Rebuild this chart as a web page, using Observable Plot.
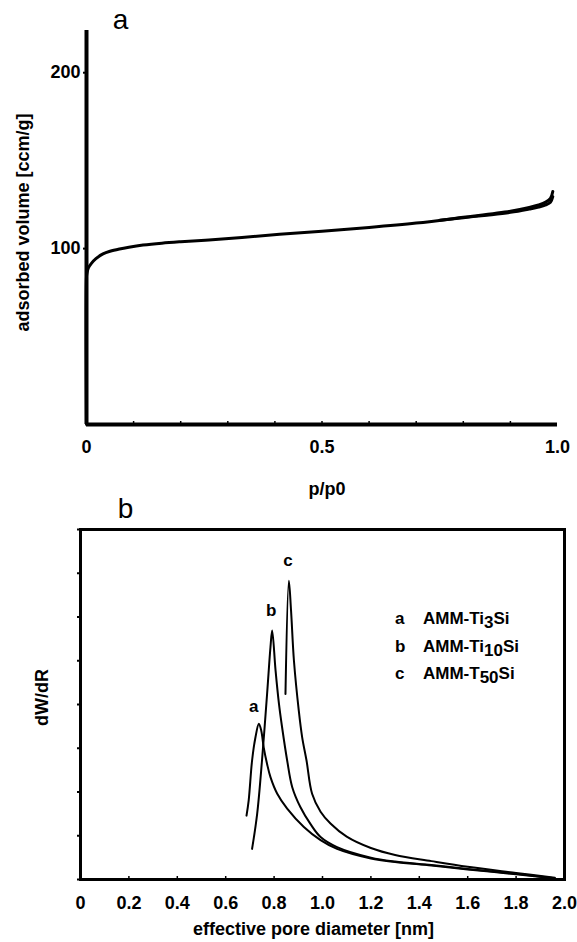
<!DOCTYPE html>
<html><head><meta charset="utf-8">
<script src="https://cdn.jsdelivr.net/npm/d3@7"></script>
<script src="https://cdn.jsdelivr.net/npm/@observablehq/plot@0.6"></script>
<style>
body{margin:0;background:#fff;}
#wrap{position:relative;width:577px;height:942px;font-family:"Liberation Sans",Arial,sans-serif;color:#000;}
#chartA{position:absolute;left:0;top:0;}
#chartB{position:absolute;left:0;top:500px;}
.lg{position:absolute;left:395px;font:bold 17px "Liberation Sans",Arial,sans-serif;line-height:17px;white-space:nowrap;color:#000;}
.lg .k{display:inline-block;width:28px;}
.lg .s{position:relative;top:4px;}
</style>
</head><body>
<div id="wrap">
  <div id="chartA"></div>
  <div id="chartB"></div>
  <div id="legend"></div>
</div>
<script>
// ---- Panel a: nitrogen isotherm ----
const isoAdsP = [0, 0, 0.001, 0.004, 0.01, 0.02, 0.035, 0.05, 0.07, 0.09, 0.12, 0.16, 0.2, 0.26, 0.33, 0.41, 0.5, 0.6, 0.7, 0.8, 0.9, 0.94, 0.96, 0.975, 0.985, 0.99];
const isoAdsV = [0, 84, 86, 89, 91.5, 94.3, 97, 98.5, 99.8, 100.8, 102, 103.1, 103.9, 104.9, 106.3, 108.1, 109.9, 112, 114.5, 117.8, 121.3, 123.4, 124.8, 126.4, 128.5, 132.5];
const isoDesP = [0.99, 0.985, 0.975, 0.96, 0.94, 0.9, 0.85, 0.8, 0.75];
const isoDesV = [129.5, 126.3, 124.8, 123.6, 122.5, 120.6, 119.0, 117.6, 116.1];
const aXTicks = [0, 0.5, 1];
const aXTickLabels = ["0", "0.5", "1.0"];
const aMinorTicks = [0.1, 0.2, 0.3, 0.4, 0.5, 0.6, 0.7, 0.8, 0.9];
const aYTicks = [100, 200];

// ---- Panel b: pore size distributions ----
const psdA_d = [0.686, 0.695, 0.709, 0.723, 0.737, 0.747, 0.757, 0.771, 0.785, 0.813, 0.854, 0.923, 0.992, 1.06, 1.2, 1.3, 1.45, 1.6, 1.8, 1.95];
const psdA_v = [1.46, 1.81, 2.72, 3.25, 3.56, 3.4, 3.02, 2.64, 2.34, 1.96, 1.62, 1.2, 0.9, 0.7, 0.48, 0.4, 0.32, 0.23, 0.12, 0.03];
const psdB_d = [0.709, 0.73, 0.75, 0.771, 0.785, 0.792, 0.806, 0.82, 0.833, 0.854, 0.875, 0.909, 0.95, 0.992, 1.06, 1.2, 1.3, 1.45, 1.6, 1.8, 1.96];
const psdB_v = [0.7, 1.5, 2.72, 4.24, 5.31, 5.69, 4.78, 4.02, 3.48, 2.72, 2.11, 1.65, 1.27, 0.97, 0.74, 0.5, 0.41, 0.33, 0.24, 0.13, 0.03];
const psdC_d = [0.847, 0.861, 0.87, 0.882, 0.902, 0.916, 0.934, 0.957, 0.992, 1.033, 1.1, 1.2, 1.3, 1.45, 1.6, 1.8, 1.96];
const psdC_v = [4.24, 6.83, 6.15, 5.0, 3.86, 3.25, 2.72, 1.96, 1.55, 1.28, 0.98, 0.72, 0.56, 0.42, 0.29, 0.15, 0.04];
const seriesKeys = ["a", "b", "c"];
const seriesNames = [["AMM-Ti", "3", "Si"], ["AMM-Ti", "10", "Si"], ["AMM-T", "50", "Si"]];
const bXTicks = [0, 0.2, 0.4, 0.6, 0.8, 1.0, 1.2, 1.4, 1.6, 1.8, 2.0];
const bXTickLabels = ["0", "0.2", "0.4", "0.6", "0.8", "1.0", "1.2", "1.4", "1.6", "1.8", "2.0"];
const bYTicks = [0, 1, 2, 3, 4, 5, 6, 7, 8];

const FONT = "'Liberation Sans', Arial, sans-serif";

const ads = isoAdsP.map((p, i) => ({p, v: isoAdsV[i]}));
const des = isoDesP.map((p, i) => ({p, v: isoDesV[i]}));

const plotA = Plot.plot({
  width: 577, height: 500,
  marginLeft: 86, marginRight: 20, marginTop: 30, marginBottom: 76,
  style: {fontFamily: FONT, background: "white", color: "black", overflow: "visible"},
  x: {domain: [0, 1]},
  y: {domain: [0, 224]},
  marks: [
    Plot.axisX(aXTicks, {tickSize: 0, tickPadding: 16, fontSize: 18, fontWeight: "bold", label: null,
      tickFormat: d => aXTickLabels[aXTicks.indexOf(d)]}),
    Plot.axisX(aMinorTicks, {tickSize: 3, dy: -3, fill: "none", strokeWidth: 1.5, label: null}),
    Plot.axisY(aYTicks, {tickSize: 3, tickPadding: 3, fontSize: 18, fontWeight: "bold", strokeWidth: 2, label: null}),
    Plot.ruleX([0], {strokeWidth: 4}),
    Plot.ruleY([0], {strokeWidth: 4}),
    Plot.line(ads, {x: "p", y: "v", strokeWidth: 3, curve: "catmull-rom"}),
    Plot.line(des, {x: "p", y: "v", strokeWidth: 3, curve: "catmull-rom"}),
    Plot.text(["a"], {frameAnchor: "top-left", dx: 34, dy: -2, lineAnchor: "bottom", textAnchor: "middle", fontSize: 28}),
    Plot.text(["adsorbed volume [ccm/g]"], {frameAnchor: "left", dx: -63, dy: -5, rotate: -90, textAnchor: "middle", lineAnchor: "middle", fontSize: 18, fontWeight: "bold"}),
    Plot.text(["p/p0"], {frameAnchor: "bottom", dx: 5, dy: 70, lineAnchor: "bottom", textAnchor: "middle", fontSize: 18, fontWeight: "bold"})
  ]
});
document.getElementById("chartA").appendChild(plotA);

const psd = [];
[[psdA_d, psdA_v], [psdB_d, psdB_v], [psdC_d, psdC_v]].forEach(([ds, vs], k) => {
  ds.forEach((d, i) => psd.push({s: seriesKeys[k], d, v: vs[i]}));
});
const peaks = seriesKeys.map(s => {
  const pts = psd.filter(p => p.s === s);
  const m = pts.reduce((a, b) => (b.v > a.v ? b : a));
  return {s, d: m.d, v: m.v};
});

const plotB = Plot.plot({
  width: 577, height: 442,
  marginLeft: 80, marginRight: 13, marginTop: 29, marginBottom: 63,
  style: {fontFamily: FONT, background: "white", color: "black", overflow: "visible"},
  x: {domain: [0, 2]},
  y: {domain: [0, 8]},
  marks: [
    Plot.axisX(bXTicks, {tickSize: 0, tickPadding: 17, fontSize: 18, fontWeight: "bold", label: null,
      tickFormat: d => bXTickLabels[bXTicks.indexOf(d)]}),
    Plot.axisX(bXTicks.slice(1, -1), {tickSize: 3, dy: -3, fill: "none", strokeWidth: 1.5, label: null}),
    Plot.axisY(bYTicks, {tickSize: 3, fill: "none", strokeWidth: 2, label: null}),
    Plot.frame({strokeWidth: 3}),
    Plot.line(psd, {x: "d", y: "v", z: "s", strokeWidth: 2, curve: "catmull-rom"}),
    Plot.text(peaks.filter(p => p.s === "a"), {x: "d", y: "v", text: "s", dy: -17, dx: -5, lineAnchor: "middle", textAnchor: "middle", fontSize: 17, fontWeight: "bold"}),
    Plot.text(peaks.filter(p => p.s !== "a"), {x: "d", y: "v", text: "s", dy: -20, dx: -1, lineAnchor: "middle", textAnchor: "middle", fontSize: 17, fontWeight: "bold"}),
    Plot.text(["b"], {frameAnchor: "top-left", dx: 45, dy: -12, lineAnchor: "bottom", textAnchor: "middle", fontSize: 28}),
    Plot.text(["dW/dR"], {frameAnchor: "left", dx: -38, dy: -7, rotate: -90, textAnchor: "middle", lineAnchor: "middle", fontSize: 18, fontWeight: "bold"}),
    Plot.text(["effective pore diameter [nm]"], {frameAnchor: "bottom", dx: -9, dy: 55, lineAnchor: "bottom", textAnchor: "middle", fontSize: 18, fontWeight: "bold"})
  ]
});
document.getElementById("chartB").appendChild(plotB);

// legend with subscripts
const legend = document.getElementById("legend");
const legendTops = [610, 637.5, 665];
seriesKeys.forEach((k, i) => {
  const div = document.createElement("div");
  div.className = "lg";
  div.style.top = legendTops[i] + "px";
  const [pre, sub, post] = seriesNames[i];
  div.innerHTML = `<span class="k">${k}</span>${pre}<span class="s">${sub}</span>${post}`;
  legend.appendChild(div);
});
</script>
</body></html>
